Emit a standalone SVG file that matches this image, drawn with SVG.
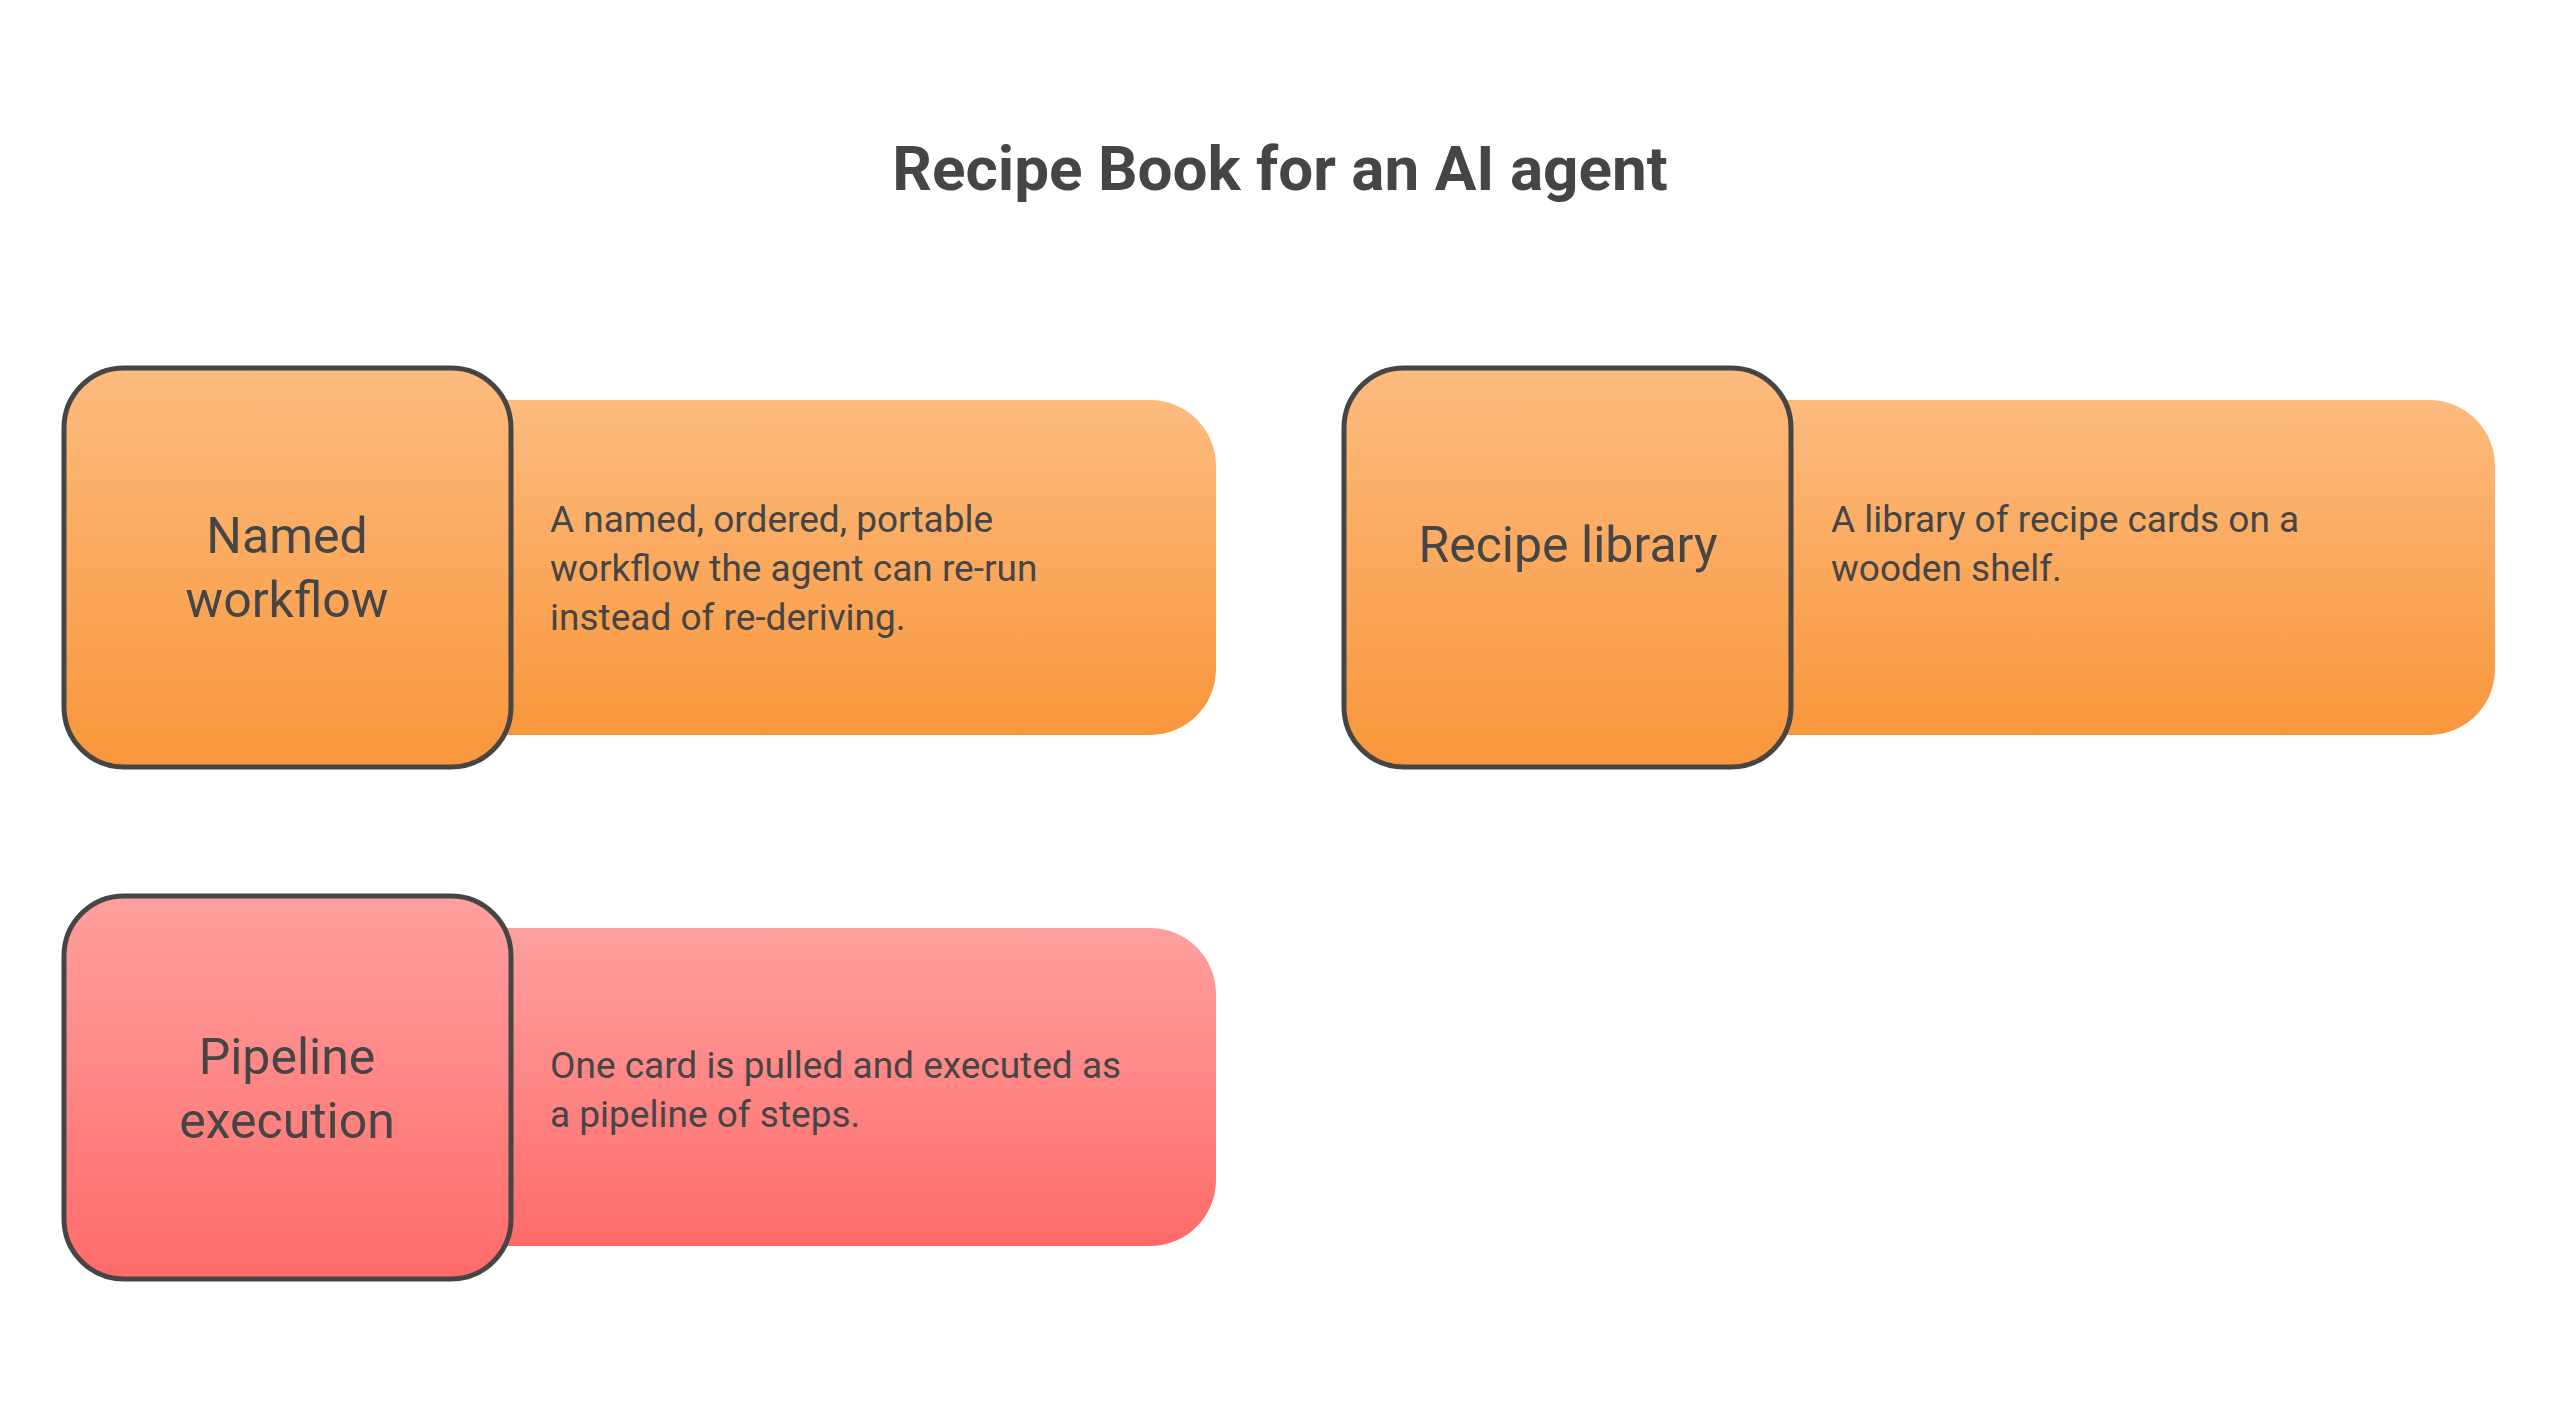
<svg xmlns="http://www.w3.org/2000/svg" width="2560" height="1408" viewBox="0 0 2560 1408">
<defs>
<linearGradient id="go" x1="0" y1="0" x2="0" y2="1"><stop offset="0" stop-color="#FDBB7E"/><stop offset="1" stop-color="#F8963B"/></linearGradient>
<linearGradient id="gr" x1="0" y1="0" x2="0" y2="1"><stop offset="0" stop-color="#FEA09F"/><stop offset="1" stop-color="#FE6B69"/></linearGradient>
<style>
text{font-family:Roboto,"Liberation Sans",sans-serif;fill:#454545}
.t{font-size:62px;font-weight:bold;text-anchor:middle}
.l{font-size:50px;text-anchor:middle}
.d{font-size:37px}
.b{stroke:#454545;stroke-width:5}
</style>
</defs>
<rect width="2560" height="1408" fill="#fff"/>
<text class="t" x="1280" y="190">Recipe Book for an AI agent</text>
<g id="named-workflow">
<path d="M480 400 H1150 A66 66 0 0 1 1216 466 V670 A66 66 0 0 1 1150 735 H480 Z" fill="url(#go)"/>
<rect class="b" x="64" y="368" width="447" height="399" rx="60" fill="url(#go)"/>
<text class="l" x="287" y="553">Named</text><text class="l" x="287" y="617">workflow</text>
<text class="d" x="550" y="532">A named, ordered, portable</text>
<text class="d" x="550" y="581">workflow the agent can re-run</text>
<text class="d" x="550" y="630">instead of re-deriving.</text>
</g>
<g id="recipe-library">
<path d="M1760 400 H2429 A66 66 0 0 1 2495 466 V670 A66 66 0 0 1 2429 735 H1760 Z" fill="url(#go)"/>
<rect class="b" x="1344" y="368" width="447" height="399" rx="60" fill="url(#go)"/>
<text class="l" x="1568" y="562">Recipe library</text>
<text class="d" x="1831" y="532">A library of recipe cards on a</text>
<text class="d" x="1831" y="581">wooden shelf.</text>
</g>
<g id="pipeline-execution">
<path d="M480 928 H1150 A66 66 0 0 1 1216 994 V1180 A66 66 0 0 1 1150 1246 H480 Z" fill="url(#gr)"/>
<rect class="b" x="64" y="896" width="447" height="383" rx="60" fill="url(#gr)"/>
<text class="l" x="287" y="1074">Pipeline</text><text class="l" x="287" y="1138">execution</text>
<text class="d" x="550" y="1078">One card is pulled and executed as</text>
<text class="d" x="550" y="1127">a pipeline of steps.</text>
</g>
<g id="connectors"/>
</svg>
